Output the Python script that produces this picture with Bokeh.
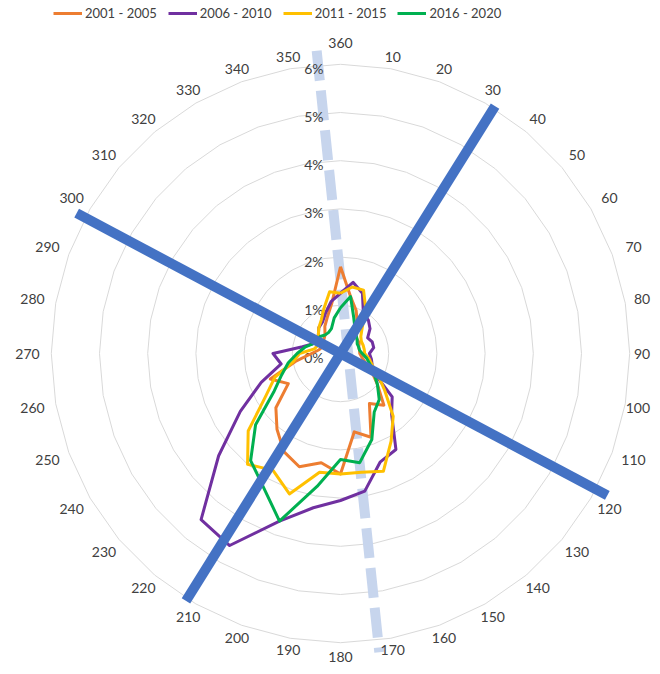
import numpy as np
from bokeh.plotting import figure
from bokeh.models import Range1d
from bokeh.core.properties import value
from bokeh.embed import file_html
from bokeh.resources import INLINE

# ---- data -------------------------------------------------------------
directions = list(range(0, 360, 10))
dir_labels = ["360"] + [str(d) for d in range(10, 360, 10)]
pct_ticks = [0, 1, 2, 3, 4, 5, 6]
pct_labels = ["0%", "1%", "2%", "3%", "4%", "5%", "6%"]

s2001_2005 = [1.8, 1.2, 0.95, 0.7, 0.5, 0.45, 0.45, 0.4, 0.4, 0.4, 0.45, 0.55,
              0.75, 1.0, 1.4, 1.2, 1.85, 1.65, 2.5, 2.3, 2.5, 2.35, 2.05, 1.75,
              1.25, 1.55, 0.95, 0.6, 0.45, 0.4, 0.4, 0.45, 0.5, 0.65, 0.8, 1.05]
s2006_2010 = [1.25, 1.5, 1.33, 0.95, 0.9, 0.8, 0.65, 0.7, 0.7, 0.6, 0.65, 0.7,
              0.8, 1.4, 1.65, 2.3, 2.4, 2.9, 3.05, 3.25, 3.7, 4.6, 4.5, 3.3,
              2.4, 1.75, 1.25, 1.4, 0.8, 0.6, 0.5, 0.6, 0.7, 0.75, 0.9, 1.1]
s2011_2015 = [1.25, 1.4, 1.4, 1.05, 0.7, 0.55, 0.5, 0.5, 0.5, 0.5, 0.6, 0.7,
              0.9, 1.2, 1.7, 2.1, 2.6, 2.5, 2.5, 2.5, 3.1, 2.8, 3.0, 2.5,
              1.8, 1.45, 1.0, 0.85, 0.55, 0.5, 0.5, 0.6, 0.7, 0.8, 1.0, 1.3]
s2016_2020 = [0.95, 1.2, 0.8, 0.6, 0.5, 0.45, 0.4, 0.4, 0.4, 0.45, 0.55, 0.65,
              0.8, 1.0, 1.25, 1.4, 1.9, 2.3, 2.2, 2.8, 3.7, 3.2, 2.9, 2.3,
              1.6, 1.3, 1.1, 0.9, 0.75, 0.6, 0.55, 0.55, 0.5, 0.5, 0.55, 0.75]

series_names = ["2001 - 2005", "2006 - 2010", "2011 - 2015", "2016 - 2020"]
series_values = [s2001_2005, s2006_2010, s2011_2015, s2016_2020]
series_colors = ["#ED7D31", "#7030A0", "#FFC000", "#00B050"]

# overlay axes (direction in degrees, extent in %)
axis_a_dirs = [32, 212]
axis_a_len = [6.05, 6.05]
axis_b_dirs = [298, 118]
axis_b_len = [6.2, 6.27]
dash_dirs = [355.5, 172.6]
dash_len = [6.3, 6.25]

# ---- layout -----------------------------------------------------------
W, H = 652, 666
PX = 48.2          # pixels per 1 %
CX, CY = 340, 353  # centre in figure pixels (from left / top)


def polar(dirs, vals):
    t = np.deg2rad(np.asarray(dirs, dtype=float))
    v = np.asarray(vals, dtype=float)
    return v * np.sin(t), v * np.cos(t)


p = figure(width=W, height=H, output_backend="svg", toolbar_location=None,
           x_range=Range1d(-CX / PX, (W - CX) / PX),
           y_range=Range1d(-(H - CY) / PX, CY / PX),
           min_border=0, background_fill_color="white")
p.axis.visible = False
p.grid.visible = False
p.outline_line_color = None

FONT = "Lato"
TXT = "#404040"

# grid rings (36-gon like a radar chart)
for r in pct_ticks[1:]:
    gx, gy = polar(directions + [0], [r] * 37)
    p.line(gx, gy, line_color="#D9D9D9", line_width=1)

# dashed light-blue line
dx, dy = polar(dash_dirs, dash_len)
p.line(dx, dy, line_color="#C7D5ED", line_width=10, line_dash="30 10")

# percent labels
p.text(x=[0] * len(pct_ticks), y=pct_ticks, text=pct_labels,
       x_offset=-17, y_offset=4, text_align="right", text_baseline="middle",
       text_font=value(FONT), text_font_size="14px", text_color=TXT)

# data series
for name, vals, col in zip(series_names, series_values, series_colors):
    sx, sy = polar(directions + [0], vals + [vals[0]])
    p.line(sx, sy, line_color=col, line_width=3, line_join="round",
           legend_label=name)

# thick blue lines
for dirs, lens in ((axis_a_dirs, axis_a_len), (axis_b_dirs, axis_b_len)):
    ax_, ay_ = polar(dirs, lens)
    p.line(ax_, ay_, line_color="#4472C4", line_width=10, line_cap="butt")

# direction labels
dirs_arr = np.asarray(directions, dtype=float)
th = np.deg2rad(dirs_arr)
lab_px = 300 + 13 * np.abs(np.sin(th)) ** 1.5 + np.where(dirs_arr % 180 == 0, 11, 0)
lx, ly = polar(directions, lab_px / PX)
# keep labels inside the canvas edges
half_w = np.array([len(t) * 4.2 for t in dir_labels])
lx = np.minimum(lx, (W - 2 - CX - half_w) / PX)
ly = np.maximum(ly, -(H - 10 - CY) / PX)
p.text(x=lx, y=ly, text=dir_labels, text_align="center", text_baseline="middle",
       text_font=value(FONT), text_font_size="14px", text_color=TXT)

# legend
lg = p.legend[0]
lg.orientation = "horizontal"
lg.location = (53, H - 21)
lg.padding = 0
lg.margin = 0
lg.spacing = 11
lg.label_standoff = 3
lg.glyph_width = 29
lg.glyph_height = 14
lg.label_height = 14
lg.label_text_font = FONT
lg.label_text_font_size = "13px"
lg.label_text_color = TXT
lg.background_fill_alpha = 0
lg.border_line_color = None

open("out.html", "w").write(file_html(p, INLINE))
